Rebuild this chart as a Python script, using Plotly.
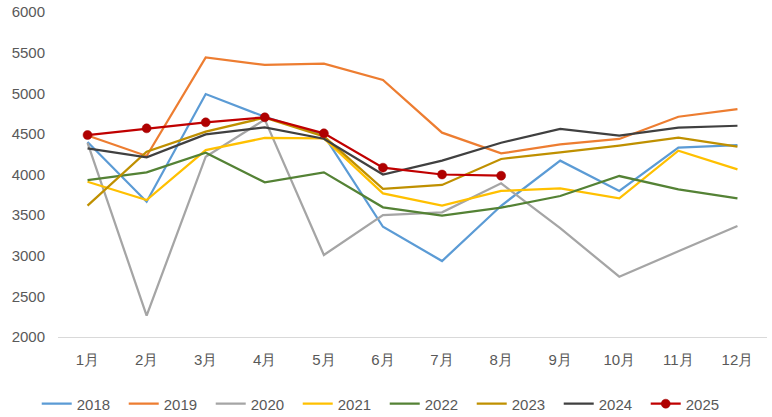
import plotly.graph_objects as go

months = ["1月", "2月", "3月", "4月", "5月", "6月", "7月", "8月", "9月", "10月", "11月", "12月"]

y2018 = [4400, 3665, 4990, 4710, 4480, 3357, 2935, 3615, 4170, 3797, 4330, 4363]
y2019 = [4480, 4228, 5442, 5348, 5365, 5163, 4515, 4260, 4370, 4437, 4711, 4806]
y2020 = [4390, 2262, 4219, 4675, 3009, 3500, 3535, 3891, 3340, 2742, 3055, 3366]
y2021 = [3911, 3686, 4300, 4450, 4445, 3768, 3617, 3797, 3830, 3707, 4293, 4063]
y2022 = [3930, 4027, 4268, 3904, 4027, 3596, 3493, 3592, 3735, 3981, 3818, 3707]
y2023 = [3617, 4281, 4527, 4700, 4470, 3822, 3871, 4191, 4273, 4355, 4453, 4343]
y2024 = [4322, 4211, 4494, 4581, 4440, 4000, 4170, 4391, 4560, 4478, 4576, 4600]
y2025 = [4486, 4568, 4642, 4704, 4507, 4084, 4000, 3985]

series = [
    ("2018", y2018, "#5B9BD5"),
    ("2019", y2019, "#ED7D31"),
    ("2020", y2020, "#A5A5A5"),
    ("2021", y2021, "#FFC000"),
    ("2022", y2022, "#548235"),
    ("2023", y2023, "#BF9000"),
    ("2024", y2024, "#404040"),
]

fig = go.Figure()
for name, ys, color in series:
    fig.add_trace(go.Scatter(x=months[:len(ys)], y=ys, name=name, mode="lines",
                             line=dict(color=color, width=2.25)))
fig.add_trace(go.Scatter(x=months[:len(y2025)], y=y2025, name="2025", mode="lines+markers",
                         line=dict(color="#C00000", width=2.25),
                         marker=dict(color="#B00000", size=9, line=dict(color="#A00000", width=0.5))))

font_family = "Liberation Sans, Arial, sans-serif"
fig.update_layout(
    width=772, height=417,
    margin=dict(l=58, r=5, t=12, b=80, autoexpand=False),
    paper_bgcolor="white", plot_bgcolor="white",
    font=dict(family=font_family, size=15, color="#595959"),
    showlegend=True,
    legend=dict(orientation="h", x=-0.03, xanchor="left",
                y=-0.206, yanchor="middle",
                font=dict(size=15, color="#595959"), itemwidth=30,
                entrywidth=42, entrywidthmode="pixels", traceorder="normal"),
    xaxis=dict(type="category", showgrid=False, showline=True, linecolor="#D9D9D9",
               linewidth=1, ticks="", tickfont=dict(size=15, color="#595959"),
               range=[-0.5, 11.5], automargin=False, ticklabelstandoff=9),
    yaxis=dict(range=[2000, 6000], dtick=500, showgrid=False, showline=False,
               zeroline=False, ticks="", tickfont=dict(size=15, color="#595959"),
               ticklabelstandoff=12, automargin=False),
)

fig.write_html("out.html",
               config={"displayModeBar": False},
               post_script="document.body.style.margin='0';document.body.style.padding='0';")
